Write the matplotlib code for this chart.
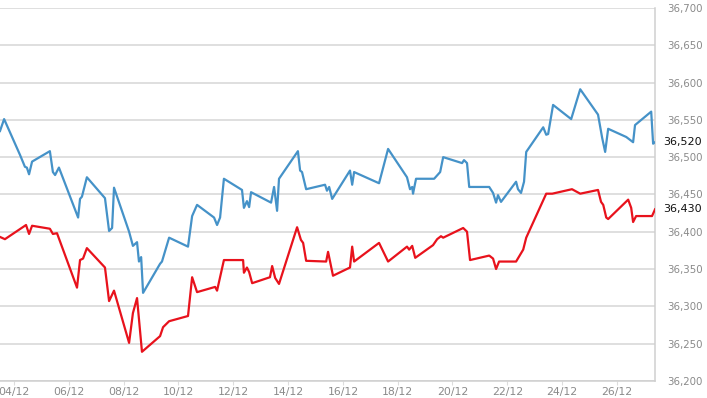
import numpy as np
import matplotlib.pyplot as plt
from matplotlib.ticker import FuncFormatter

# blue series: day of december (fractional) and price
blue_day = [3.49, 3.64, 4.22, 4.40, 4.47, 4.55, 4.66, 5.31, 5.42, 5.50, 5.64, 6.34, 6.41, 6.48, 6.66,
            7.32, 7.47, 7.58, 7.65, 8.20, 8.34, 8.49, 8.56, 8.64, 8.71, 9.33, 9.40, 9.66, 10.35, 10.50,
            10.68, 11.30, 11.41, 11.52, 11.66, 12.32, 12.39, 12.50, 12.58, 12.65, 13.38, 13.49, 13.60,
            13.67, 14.36, 14.44, 14.51, 14.66, 15.35, 15.42, 15.50, 15.61, 16.26, 16.34, 16.41, 17.32,
            17.65, 18.34, 18.45, 18.53, 18.56, 18.67, 19.33, 19.55, 19.66, 20.35, 20.42, 20.53, 20.61,
            21.34, 21.48, 21.59, 21.66, 21.77, 22.32, 22.39, 22.50, 22.61, 22.69, 23.31, 23.42, 23.49,
            23.67, 24.33, 24.66, 25.31, 25.46, 25.57, 25.68, 26.34, 26.59, 26.66, 27.25, 27.32, 27.39]
blue_val = [36535, 36551, 36503, 36487, 36486, 36477, 36494, 36508, 36480, 36476, 36486, 36419, 36444,
            36447, 36473, 36445, 36401, 36405, 36459, 36400, 36381, 36386, 36360, 36366, 36318, 36357,
            36360, 36392, 36380, 36421, 36436, 36419, 36409, 36419, 36471, 36456, 36432, 36441, 36433,
            36453, 36439, 36460, 36428, 36471, 36508, 36482, 36480, 36457, 36463, 36455, 36460, 36444,
            36482, 36463, 36480, 36465, 36511, 36473, 36457, 36460, 36451, 36471, 36471, 36480, 36500,
            36492, 36496, 36492, 36460, 36460, 36452, 36439, 36449, 36440, 36467, 36457, 36452, 36467,
            36507, 36540, 36530, 36531, 36570, 36551, 36591, 36557, 36526, 36507, 36538, 36527, 36520,
            36543, 36561, 36518, 36520]

# red series
red_day = [3.49, 3.67, 4.44, 4.55, 4.66, 5.31, 5.42, 5.57, 6.30, 6.41, 6.52, 6.66, 7.32, 7.47, 7.65,
           8.20, 8.34, 8.49, 8.67, 9.33, 9.44, 9.66, 10.35, 10.50, 10.68, 11.34, 11.41, 11.66, 12.36,
           12.39, 12.50, 12.58, 12.69, 13.34, 13.42, 13.53, 13.67, 14.33, 14.47, 14.55, 14.66, 15.39,
           15.46, 15.64, 16.26, 16.34, 16.41, 17.32, 17.65, 18.34, 18.42, 18.53, 18.64, 19.29, 19.44,
           19.58, 19.66, 20.39, 20.53, 20.64, 21.34, 21.48, 21.59, 21.70, 22.32, 22.58, 22.69, 23.42,
           23.64, 24.36, 24.66, 25.31, 25.42, 25.50, 25.61, 25.68, 26.41, 26.52, 26.59, 26.70, 27.28,
           27.39]
red_val = [36393, 36390, 36409, 36397, 36408, 36404, 36397, 36398, 36325, 36362, 36364, 36378, 36352,
           36307, 36321, 36251, 36291, 36311, 36239, 36260, 36272, 36280, 36287, 36339, 36319, 36326,
           36321, 36362, 36362, 36345, 36352, 36346, 36331, 36339, 36354, 36338, 36330, 36406, 36389,
           36385, 36361, 36360, 36373, 36341, 36352, 36380, 36360, 36385, 36360, 36380, 36376, 36381,
           36365, 36382, 36390, 36394, 36392, 36405, 36400, 36362, 36368, 36364, 36350, 36360, 36360,
           36376, 36392, 36451, 36451, 36457, 36451, 36456, 36440, 36436, 36419, 36417, 36443, 36432,
           36413, 36421, 36421, 36430]

tick_days = [4, 6, 8, 10, 12, 14, 16, 18, 20, 22, 24, 26]
tick_labels = ['04/12', '06/12', '08/12', '10/12', '12/12', '14/12', '16/12', '18/12',
               '20/12', '22/12', '24/12', '26/12']
last_labels = ['36,520', '36,430']

fig = plt.figure(figsize=(7.07, 3.98), dpi=100)
ax = fig.add_axes([0.0, 0.043, 0.9265, 0.937])

ax.plot(blue_day, blue_val, color='#4592c8', lw=1.6, zorder=3)
ax.plot(red_day, red_val, color='#e8121c', lw=1.6, zorder=3)

ax.set_xlim(3.49, 27.39)
ax.set_ylim(36200, 36700)
ax.set_yticks(np.arange(36200, 36701, 50))
ax.yaxis.set_major_formatter(FuncFormatter(lambda v, p: '{:,.0f}'.format(v)))
ax.yaxis.tick_right()
ax.grid(axis='y', color='#d6d6d6', lw=1.1)
ax.set_axisbelow(True)

ax.set_xticks(tick_days)
ax.set_xticklabels(tick_labels)

for s in ['left', 'top']:
    ax.spines[s].set_visible(False)
for s in ['right', 'bottom']:
    ax.spines[s].set_color('#cfcfcf')
    ax.spines[s].set_linewidth(1.1)

ax.tick_params(axis='y', length=0, pad=9, labelsize=7.4, labelcolor='#8a8a8a')
ax.tick_params(axis='x', length=3, color='#dddddd', pad=1.5, labelsize=7.8, labelcolor='#8a8a8a')

# last value labels
ax.text(1.013, blue_val[-1], last_labels[0], transform=ax.get_yaxis_transform(),
        fontsize=8, color='#111111', va='center', ha='left')
ax.text(1.013, red_val[-1], last_labels[1], transform=ax.get_yaxis_transform(),
        fontsize=8, color='#111111', va='center', ha='left')

fig.savefig('out.png', dpi=100)
